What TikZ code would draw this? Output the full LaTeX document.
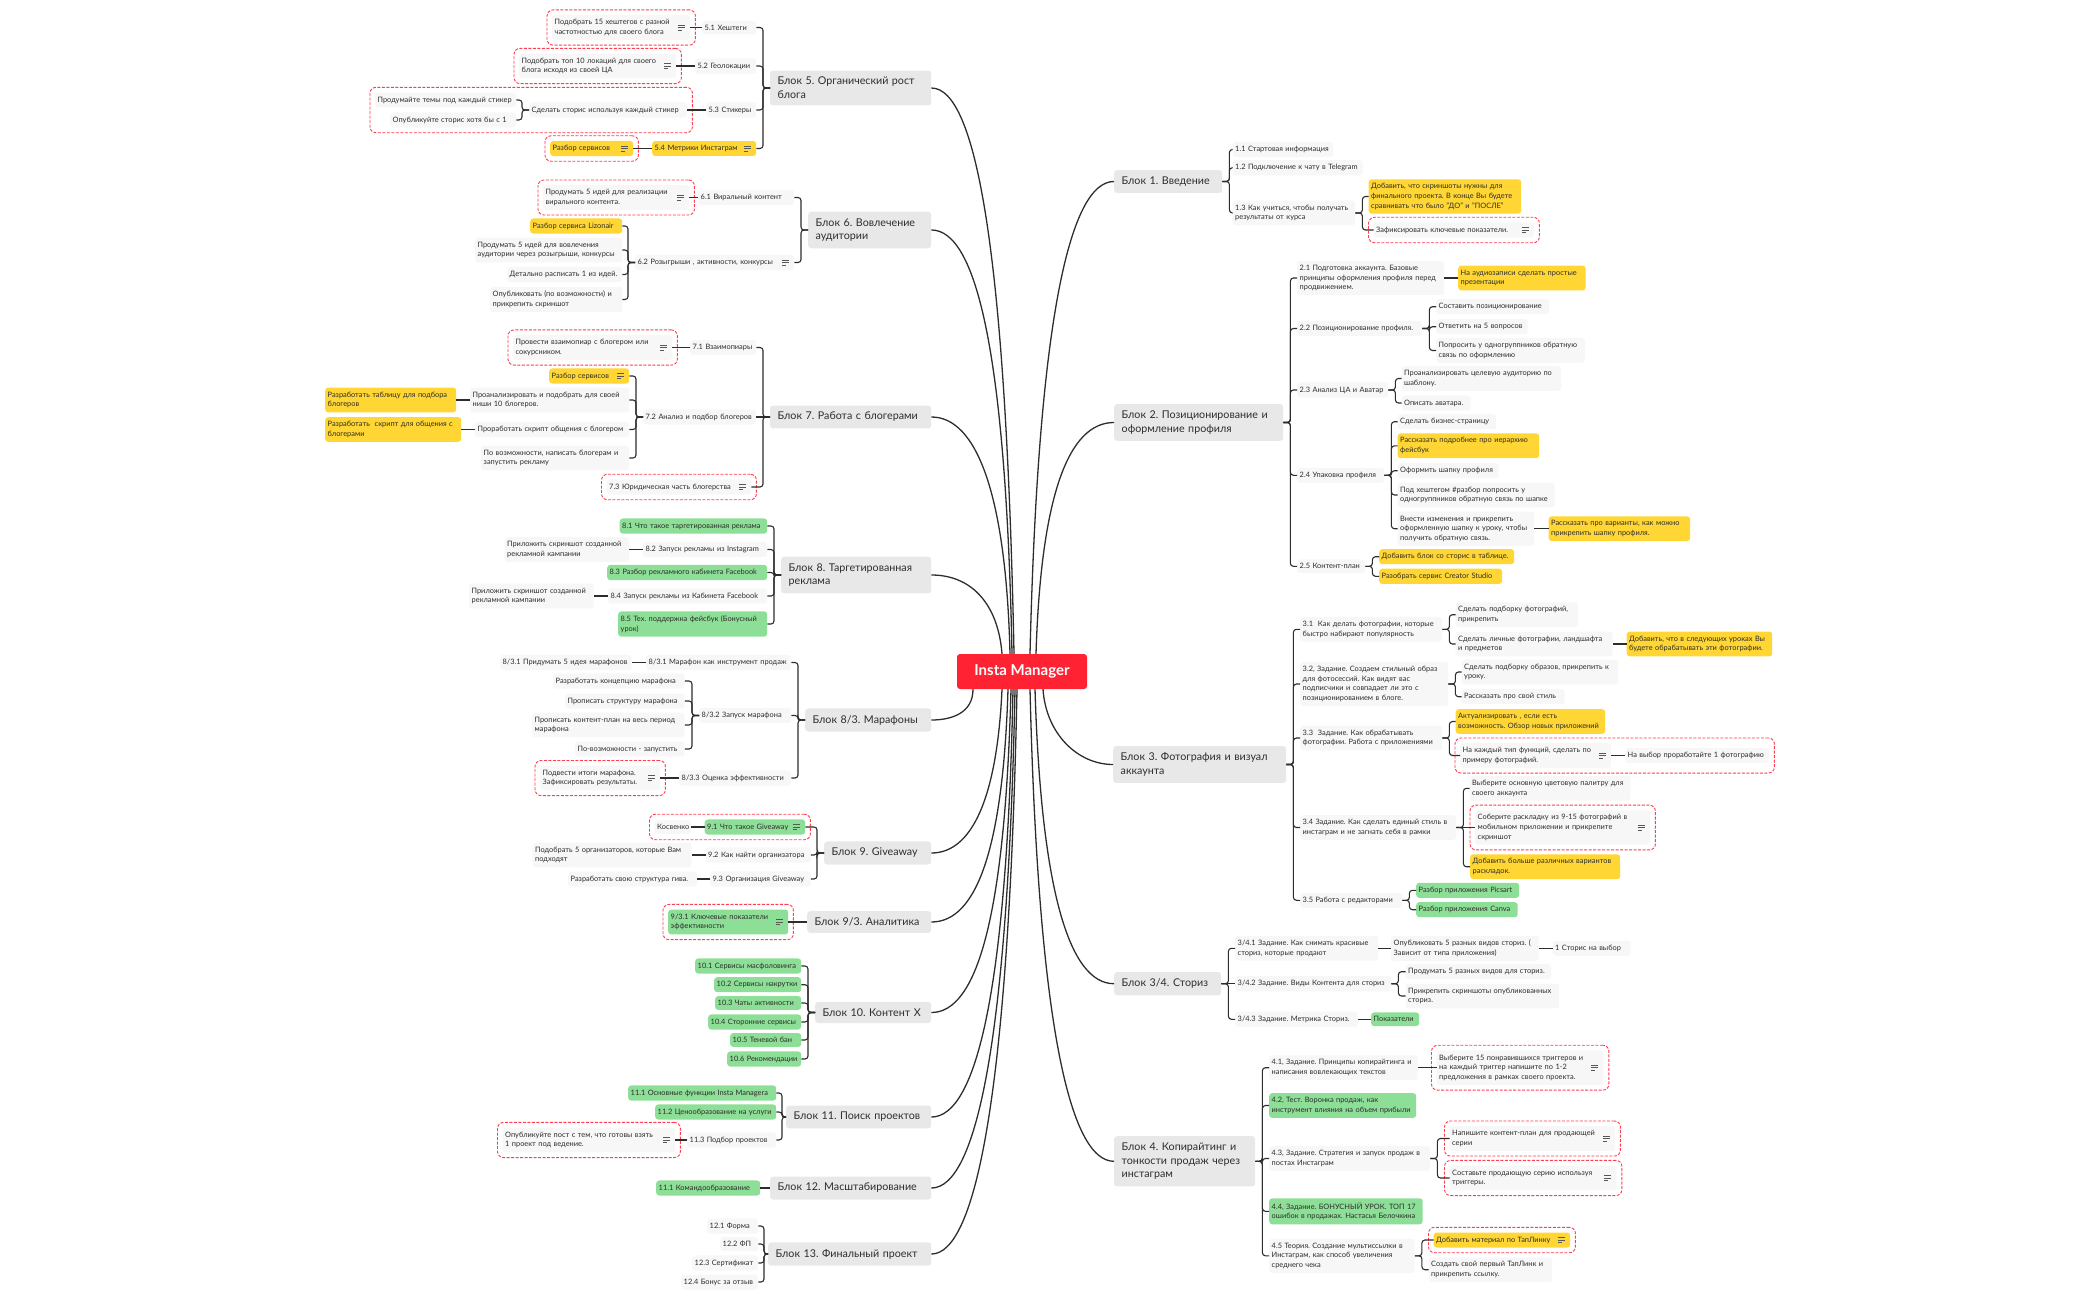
\documentclass[tikz,border=0pt]{standalone}
\usepackage{fontspec}
\setmainfont{Lato}
\usetikzlibrary{calc, fit}

\definecolor{rootred}{RGB}{254, 34, 50}
\definecolor{blockgray}{RGB}{232, 232, 232}
\definecolor{leafgray}{RGB}{247, 247, 247}
\definecolor{taskyellow}{RGB}{255, 214, 51}
\definecolor{taskgreen}{RGB}{141, 222, 150}
\definecolor{inkgray}{RGB}{45, 45, 45}
\definecolor{dashred}{RGB}{255, 60, 80}

\tikzset{
  leaf/.style={anchor=west, fill=leafgray, text=inkgray, rounded corners=3pt, inner xsep=2.5pt, inner ysep=4.2pt, align=left, font=\fontsize{7.4}{9.7}\selectfont\frenchspacing},
  yellowleaf/.style={leaf, fill=taskyellow},
  greenleaf/.style={leaf, fill=taskgreen},
  w/.style={text width=#1pt-5pt},
  block/.style={anchor=west, fill=blockgray, text=inkgray, rounded corners=3pt, inner xsep=7.5pt, inner ysep=6.7pt, align=left, font=\fontsize{10.7}{13.7}\selectfont\frenchspacing},
  bw/.style={text width=#1pt-15pt},
  dashbox/.style={draw=dashred, dashed, dash pattern=on 3pt off 1.5pt, line width=0.9pt, rounded corners=6pt, inner sep=5pt},
  mainlink/.style={draw=inkgray, line width=1.3pt},
  sublink/.style={draw=inkgray, line width=1.1pt, rounded corners=3pt},
  straightlink/.style={draw=inkgray, line width=1.3pt},
  noteicon/.pic={\draw[inkgray!80, line width=0.6pt] (-3.5,-2.6) -- (3.5,-2.6) (-3.5,0) -- (3.5,0) (-3.5,2.6) -- (0.5,2.6);}
}

\begin{document}
\begin{tikzpicture}[x=1pt, y=-1pt]
  \useasboundingbox (0,0) rectangle (2100,1300);

  % Root
  \node[fill=rootred, text=white, rounded corners=3pt, minimum width=130pt, minimum height=35pt, font=\fontsize{15}{15}\bfseries\selectfont] (root) at (1022,671.5) {Insta Manager};

  % Blocks, left side
  \node[block, bw=161] (b5) at (770,88) {Блок 5. Органический рост\\блога};
  \node[block, bw=123] (b6) at (808,230) {Блок 6. Вовлечение\\аудитории};
  \node[block, bw=161] (b7) at (770,417) {Блок 7. Работа с блогерами};
  \node[block, bw=150] (b8) at (781,575) {Блок 8. Таргетированная\\реклама};
  \node[block, bw=126] (b83) at (805,720) {Блок 8/3. Марафоны};
  \node[block, bw=107] (b9) at (824,853) {Блок 9. Giveaway};
  \node[block, bw=124] (b93) at (807,922) {Блок 9/3. Аналитика};
  \node[block, bw=116] (b10) at (815,1012.5) {Блок 10. Контент X};
  \node[block, bw=145] (b11) at (786,1117) {Блок 11. Поиск проектов};
  \node[block, bw=161] (b12) at (770,1188) {Блок 12. Масштабирование};
  \node[block, bw=163] (b13) at (768,1254) {Блок 13. Финальный проект};

  % Blocks, right side
  \node[block, bw=108] (b1) at (1114,181.5) {Блок 1. Введение};
  \node[block, bw=169] (b2) at (1114,422.5) {Блок 2. Позиционирование и\\оформление профиля};
  \node[block, bw=173] (b3) at (1113,764.5) {Блок 3. Фотография и визуал\\аккаунта};
  \node[block, bw=107] (b34) at (1114,983.7) {Блок 3/4. Сториз};
  \node[block, bw=141] (b4) at (1114,1161.3) {Блок 4. Копирайтинг и\\тонкости продаж через\\инстаграм};

  % Block 5
  \node[leaf, w=54] (n51) at (702,27.5) {5.1 Хештеги};
  \node[leaf, w=138] (n51a) at (552,27.5) {Подобрать 15 хештегов с разной\\частотностью для своего блога};
  \node[leaf, w=61] (n52) at (695,66) {5.2 Геолокации};
  \node[leaf, w=157] (n52a) at (519,66) {Подобрать топ 10 локаций для своего\\блога исходя из своей ЦА};
  \node[leaf, w=50] (n53) at (706,110) {5.3 Стикеры};
  \node[leaf, w=158] (n53a) at (529,110) {Сделать сторис используя каждый стикер};
  \node[leaf, w=141] (n53b1) at (375,100) {Продумайте темы под каждый стикер};
  \node[leaf, w=126] (n53b2) at (390,120) {Опубликуйте сторис хотя бы с 1};
  \node[yellowleaf, w=104] (n54) at (652,148.5) {5.4 Метрики Инстаграм};
  \node[yellowleaf, w=83] (n54a) at (550,148.5) {Разбор сервисов};

  % Block 6
  \node[leaf, w=96] (n61) at (698,197.5) {6.1 Виральный контент};
  \node[leaf, w=146] (n61a) at (543,197.5) {Продумать 5 идей для реализации\\вирального контента.};
  \node[leaf, w=159] (n62) at (635,262.5) {6.2 Розыгрыши , активности, конкурсы};
  \node[yellowleaf, w=92] (n62a) at (530,226) {Разбор сервиса Lizonair};
  \node[leaf, w=147] (n62b) at (475,250) {Продумать 5 идей для вовлечения\\аудитории через розыгрыши, конкурсы};
  \node[leaf, w=115] (n62c) at (507,274.5) {Детально расписать 1 из идей.};
  \node[leaf, w=132] (n62d) at (490,299.5) {Опубликовать (по возможности) и\\прикрепить скриншот};

  % Block 7
  \node[leaf, w=66] (n71) at (690,347.5) {7.1 Взаимопиары};
  \node[leaf, w=159] (n71a) at (513,347.5) {Провести взаимопиар с блогером или\\сокурсником.};
  \node[leaf, w=113] (n72) at (643,417) {7.2 Анализ и подбор блогеров};
  \node[yellowleaf, w=80] (n72a) at (549,376) {Разбор сервисов};
  \node[leaf, w=159] (n72b) at (470,400) {Проанализировать и подобрать для своей\\ниши 10 блогеров.};
  \node[yellowleaf, w=131] (n72b1) at (325,400) {Разработать таблицу для подбора\\блогеров};
  \node[leaf, w=154] (n72c) at (475,429.5) {Проработать скрипт общения с блогером};
  \node[yellowleaf, w=136] (n72c1) at (325,429.5) {Разработать \ скрипт для общения с\\блогерами};
  \node[leaf, w=148] (n72d) at (481,458) {По возможности, написать блогерам и\\запустить рекламу};
  \node[leaf, w=144.5] (n73) at (606.5,487) {7.3 Юридическая часть блогерства};

  % Block 8
  \node[greenleaf, w=147.5] (n81) at (619.5,526) {8.1 Что такое таргетированная реклама};
  \node[leaf, w=124] (n82) at (643,549.5) {8.2 Запуск рекламы из Instagram};
  \node[leaf, w=124.5] (n82a) at (504.5,549.5) {Приложить скриншот созданной\\рекламной кампании};
  \node[greenleaf, w=160] (n83) at (607,572.5) {8.3 Разбор рекламного кабинета Facebook};
  \node[leaf, w=159] (n84) at (608,596) {8.4 Запуск рекламы из Кабинета Facebook};
  \node[leaf, w=124.5] (n84a) at (469,596) {Приложить скриншот созданной\\рекламной кампании};
  \node[greenleaf, w=149] (n85) at (618,624) {8.5 Тех. поддержка фейсбук (Бонусный\\урок)};

  % Block 8/3
  \node[leaf, w=145] (n831) at (646,662.5) {8/3.1 Марафон как инструмент продаж};
  \node[leaf, w=131.5] (n831a) at (500,662.5) {8/3.1 Придумать 5 идея марафонов};
  \node[leaf, w=92] (n832) at (699,715.5) {8/3.2 Запуск марафона};
  \node[leaf, w=131.5] (n832a) at (553,681) {Разработать концепцию марафона};
  \node[leaf, w=119.5] (n832b) at (565,701) {Прописать структуру марафона};
  \node[leaf, w=152.5] (n832c) at (532,725) {Прописать контент-план на весь период\\марафона};
  \node[leaf, w=109.5] (n832d) at (575,749) {По-возможности - запустить};
  \node[leaf, w=112] (n833) at (679,778) {8/3.3 Оценка эффективности};
  \node[leaf, w=120] (n833a) at (540,778) {Подвести итоги марафона.\\Зафиксировать результаты.};

  % Block 9
  \node[greenleaf, w=100.5] (n91) at (704.5,827) {9.1 Что такое Giveaway};
  \node[leaf, w=36.5] (n91a) at (654.5,827) {Косвенко};
  \node[leaf, w=105] (n92) at (705.5,855) {9.2 Как найти организатора};
  \node[leaf, w=159] (n92a) at (532.5,855) {Подобрать 5 организаторов, которые Вам\\подходят};
  \node[leaf, w=100.5] (n93) at (710,879) {9.3 Организация Giveaway};
  \node[leaf, w=129] (n93a) at (568,879) {Разработать свою структура гива.};
  \node[greenleaf, w=120] (n931) at (668,922) {9/3.1 Ключевые показатели\\эффективности};

  % Block 10
  \node[greenleaf, w=106] (n101) at (695,966) {10.1 Сервисы масфоловинга};
  \node[greenleaf, w=87] (n102) at (714,984.7) {10.2 Сервисы накрутки};
  \node[greenleaf, w=86] (n103) at (715,1003) {10.3 Чаты активности};
  \node[greenleaf, w=93] (n104) at (708,1022) {10.4 Сторонние сервисы};
  \node[greenleaf, w=71] (n105) at (730,1040) {10.5 Теневой бан};
  \node[greenleaf, w=74] (n106) at (727,1059) {10.6 Рекомендации};

  % Block 11, 12, 13
  \node[greenleaf, w=148] (n111) at (628,1093) {11.1 Основные функции Insta Managera};
  \node[greenleaf, w=121] (n112) at (655,1112) {11.2 Ценообразование на услуги};
  \node[leaf, w=89] (n113) at (687,1140) {11.3 Подбор проектов};
  \node[leaf, w=172.5] (n113a) at (502.5,1140) {Опубликуйте пост с тем, что готовы взять\\1 проект под ведение.};
  \node[greenleaf, w=104] (n121) at (656,1188) {11.1 Командообразование};
  \node[leaf, w=51] (n131) at (707,1226) {12.1 Форма};
  \node[leaf, w=38] (n132) at (720,1244) {12.2 ФП};
  \node[leaf, w=66] (n133) at (692,1263) {12.3 Сертификат};
  \node[leaf, w=77] (n134) at (681,1282) {12.4 Бонус за отзыв};

  % Block 1
  \node[leaf, w=100.5] (n11) at (1232.5,149.5) {1.1 Стартовая информация};
  \node[leaf, w=130] (n12) at (1232.5,167.7) {1.2 Подключение к чату в Telegram};
  \node[leaf, w=122.5] (n13) at (1232.5,213) {1.3 Как учиться, чтобы получать\\результаты от курса};
  \node[yellowleaf, w=152.5] (n13a) at (1368.5,196.5) {Добавить, что скриншоты нужны для\\финального проекта. В конце Вы будете\\сравнивать что было "ДО" и "ПОСЛЕ"};
  \node[leaf, w=160.5] (n13b) at (1373.5,230) {Зафиксировать ключевые показатели.};

  % Block 2
  \node[leaf, w=147] (n21) at (1297,278) {2.1 Подготовка аккаунта. Базовые\\принципы оформления профиля перед\\продвижением.};
  \node[yellowleaf, w=127.5] (n21a) at (1458,278) {На аудиозаписи сделать простые\\презентации};
  \node[leaf, w=125] (n22) at (1297,328.5) {2.2 Позиционирование профиля.};
  \node[leaf, w=113] (n22a) at (1436,306.7) {Составить позиционирование};
  \node[leaf, w=91.5] (n22b) at (1436,326.7) {Ответить на 5 вопросов};
  \node[leaf, w=149] (n22c) at (1436,350.5) {Попросить у одногруппников обратную\\связь по оформлению};
  \node[leaf, w=91] (n23) at (1297,390) {2.3 Анализ ЦА и Аватар};
  \node[leaf, w=159.5] (n23a) at (1401.5,378.5) {Проанализировать целевую аудиторию по\\шаблону.};
  \node[leaf, w=69] (n23b) at (1401.5,403) {Описать аватара.};
  \node[leaf, w=87] (n24) at (1297,475.3) {2.4 Упаковка профиля};
  \node[leaf, w=98.5] (n24a) at (1397.5,421.7) {Сделать бизнес-страницу};
  \node[yellowleaf, w=141.5] (n24b) at (1397.5,445.8) {Рассказать подробнее про иерархию\\фейсбук};
  \node[leaf, w=101] (n24c) at (1397.5,470.7) {Оформить шапку профиля};
  \node[leaf, w=157] (n24d) at (1397.5,495) {Под хештегом \#разбор попросить у\\одногруппников обратную связь по шапке};
  \node[leaf, w=136.5] (n24e) at (1397.5,528.7) {Внести изменения и прикрепить\\оформленную шапку к уроку, чтобы\\получить обратную связь.};
  \node[yellowleaf, w=141.5] (n24e1) at (1548.5,528.7) {Рассказать про варианты, как можно\\прикрепить шапку профиля.};
  \node[leaf, w=68] (n25) at (1297,566.3) {2.5 Контент-план};
  \node[yellowleaf, w=135] (n25a) at (1379,556.7) {Добавить блок со сторис в таблице.};
  \node[yellowleaf, w=123] (n25b) at (1379,576.3) {Разобрать сервис Creator Studio};

  % Block 3
  \node[leaf, w=142] (n31) at (1300,629.3) {3.1 \ Как делать фотографии, которые\\быстро набирают популярность};
  \node[leaf, w=122.5] (n31a) at (1455.5,614.7) {Сделать подборку фотографий,\\прикрепить};
  \node[leaf, w=157] (n31b) at (1455.5,644) {Сделать личные фотографии, ландшафта\\и предметов};
  \node[yellowleaf, w=145.5] (n31b1) at (1626.5,644) {Добавить, что в следующих уроках Вы\\будете обрабатывать эти фотографии.};
  \node[leaf, w=148] (n32) at (1300,684) {3.2, Задание. Создаем стильный образ\\для фотосессий. Как видят вас\\подписчики и совпадает ли это с\\позиционированием в блоге.};
  \node[leaf, w=156.5] (n32a) at (1461.5,672) {Сделать подборку образов, прикрепить к\\уроку.};
  \node[leaf, w=103] (n32b) at (1461.5,696.7) {Рассказать про свой стиль};
  \node[leaf, w=142] (n33) at (1300,738) {3.3 \ Задание. Как обрабатывать\\фотографии. Работа с приложениями};
  \node[yellowleaf, w=149.5] (n33a) at (1455.5,721.5) {Актуализировать , если есть\\возможность. Обзор новых приложений};
  \node[leaf, w=151] (n33b) at (1460,755.5) {На каждый тип функций, сделать по\\примеру фотографий.};
  \node[leaf, w=144] (n33b1) at (1625,755.5) {На выбор проработайте 1 фотографию};
  \node[leaf, w=156] (n34) at (1300,827.5) {3.4 Задание. Как сделать единый стиль в\\инстаграм и не загнать себя в рамки};
  \node[leaf, w=161] (n34a) at (1469.5,788.3) {Выберите основную цветовую палитру для\\своего аккаунта};
  \node[leaf, w=175] (n34b) at (1475,827.5) {Соберите раскладку из 9-15 фотографий в\\мобильном приложении и прикрепите\\скриншот};
  \node[yellowleaf, w=150] (n34c) at (1470,866.7) {Добавить больше различных вариантов\\раскладок.};
  \node[leaf, w=102] (n35) at (1300,900.3) {3.5 Работа с редакторами};
  \node[greenleaf, w=103] (n35a) at (1416,890.3) {Разбор приложения Picsart};
  \node[greenleaf, w=101.5] (n35b) at (1416,909.7) {Разбор приложения Canva};

  % Block 3/4
  \node[leaf, w=143] (n341) at (1235,948.3) {3/4.1 Задание. Как снимать красивые\\сториз, которые продают};
  \node[leaf, w=147.5] (n341a) at (1391,948.3) {Опубликовать 5 разных видов сториз. (\\Зависит от типа приложения)};
  \node[leaf, w=78] (n341b) at (1552.5,948.3) {1 Сторис на выбор};
  \node[leaf, w=156] (n342) at (1235,983.7) {3/4.2 Задание. Виды Контента для сториз};
  \node[leaf, w=145.5] (n342a) at (1405.5,971.7) {Продумать 5 разных видов для сториз.};
  \node[leaf, w=153.5] (n342b) at (1405.5,996) {Прикрепить скриншоты опубликованных\\сториз.};
  \node[leaf, w=122.5] (n343) at (1235,1019.3) {3/4.3 Задание. Метрика Сториз.};
  \node[greenleaf, w=48] (n343a) at (1371,1019.3) {Показатели};

  % Block 4
  \node[leaf, w=148.5] (n41) at (1269,1067.7) {4.1, Задание. Принципы копирайтинга и\\написания вовлекающих текстов};
  \node[leaf, w=167] (n41a) at (1436.5,1067.7) {Выберите 15 понравившихся триггеров и\\на каждый триггер напишите по 1-2\\предложения в рамках своего проекта.};
  \node[greenleaf, w=147] (n42) at (1269,1105.5) {4.2, Тест. Воронка продаж, как\\инструмент влияния на объем прибыли};
  \node[leaf, w=161] (n43) at (1269,1158.5) {4.3, Задание. Стратегия и запуск продаж в\\постах Инстаграм};
  \node[leaf, w=165.5] (n43a) at (1449.5,1138.5) {Напишите контент-план для продающей\\серии};
  \node[leaf, w=167] (n43b) at (1449.5,1178) {Составьте продающую серию используя\\триггеры.};
  \node[greenleaf, w=153.5] (n44) at (1269,1211.3) {4.4, Задание. БОНУСНЫЙ УРОК. ТОП 17\\ошибок в продажах. Настасья Белочкина};
  \node[leaf, w=145.5] (n45) at (1269,1255.8) {4.5 Теория. Создание мультиссылки в\\Инстаграм, как способ увеличения\\среднего чека};
  \node[yellowleaf, w=136.5] (n45a) at (1433.5,1240) {Добавить материал по ТапЛинку};
  \node[leaf, w=123.5] (n45b) at (1428.5,1269.7) {Создать свой первый ТапЛинк и\\прикрепить ссылку.};

  % Dashed groups
  \foreach \g/\m in {d51/(n51a), d52/(n52a), d53/(n53a)(n53b1)(n53b2), d54/(n54a), d61/(n61a), d71/(n71a), d73/(n73), d833/(n833a), d91/(n91)(n91a), d931/(n931), d113/(n113a), d13/(n13b), d33/(n33b)(n33b1), d34/(n34b), d41/(n41a), d43a/(n43a), d43b/(n43b), d45/(n45a)}
    \node[dashbox, fit=\m] (\g) {};

  % Note icons
  \foreach \n in {n51a, n52a, n54, n54a, n61a, n62, n71a, n72a, n73, n833a, n91, n931, n113a, n13b, n33b, n34b, n41a, n43a, n43b, n45a}
    \pic at ([xshift=-9pt]\n.east) {noteicon};

  % Root to blocks
  \foreach \b/\s/\ax/\ay/\bx in {b5/-8/-8/-400/45, b6/-10/-6/-300/45, b7/-12/-4/-160/45, b8/-20/-4/-50/40}
    \draw[mainlink] ([xshift=\s]root.north) .. controls +(\ax,\ay) and +(\bx,0) .. (\b.east);
  \foreach \b/\s/\ax/\ay/\bx in {b83/-49/0/24/20, b9/-20/-5/110/40, b93/-14/-5/160/45, b10/-11/-6/230/45, b11/-9/-6/300/45, b12/-7/-7/350/45, b13/-5/-8/400/45}
    \draw[mainlink] ([xshift=\s]root.south) .. controls +(\ax,\ay) and +(\bx,0) .. (\b.east);
  \foreach \b/\s/\ax/\ay/\bx in {b1/8/8/-330/-45, b2/14/5/-160/-45}
    \draw[mainlink] ([xshift=\s]root.north) .. controls +(\ax,\ay) and +(\bx,0) .. (\b.west);
  \foreach \b/\s/\ax/\ay/\bx in {b3/21/3/45/-35, b34/13/6/200/-45, b4/8/8/330/-45}
    \draw[mainlink] ([xshift=\s]root.south) .. controls +(\ax,\ay) and +(\bx,0) .. (\b.west);

  % Left branches
  \foreach \p/\c in {b5/n51, b5/n52, b5/n53, b5/n54, n53a/n53b1, n53a/n53b2,
    b6/n61, b6/n62, n62/n62a, n62/n62b, n62/n62c, n62/n62d,
    b7/n71, b7/n73, n72/n72a, n72/n72b, n72/n72c, n72/n72d,
    b8/n81, b8/n82, b8/n83, b8/n84, b8/n85,
    b83/n831, b83/n832, b83/n833, n832/n832a, n832/n832b, n832/n832c, n832/n832d,
    b9/n91, b9/n92, b9/n93,
    b10/n101, b10/n102, b10/n103, b10/n104, b10/n105, b10/n106}
    \draw[sublink] (\p.west) -- ++(-7,0) |- (\c.east);
  \foreach \p/\c in {b11/n111, b11/n112, b11/n113, b13/n131, b13/n132, b13/n133, b13/n134}
    \draw[sublink] (\p.west) -- ++(-4,0) |- (\c.east);
  \foreach \p/\c in {n51/n51a, n52/n52a, n53/n53a, n54/n54a, n61/n61a, n71/n71a, b7/n72, n72b/n72b1, n72c/n72c1, n82/n82a, n84/n84a, n831/n831a, n833/n833a, n91/n91a, n92/n92a, n93/n93a, b93/n931, n113/n113a, b12/n121}
    \draw[straightlink] (\p.west) -- (\c.east);

  % Right branches
  \foreach \p/\c in {b1/n11, b1/n12, b1/n13, n13/n13a, n13/n13b,
    b2/n21, b2/n22, b2/n23, b2/n24, b2/n25, n22/n22a, n22/n22b, n22/n22c, n23/n23a, n23/n23b,
    n24/n24a, n24/n24b, n24/n24c, n24/n24d, n24/n24e, n25/n25a, n25/n25b,
    b3/n31, b3/n32, b3/n33, b3/n34, b3/n35, n31/n31a, n31/n31b, n32/n32a, n32/n32b,
    n33/n33a, n33/n33b, n34/n34a, n34/n34c, n35/n35a, n35/n35b,
    b34/n341, b34/n343, n342/n342a, n342/n342b,
    b4/n41, b4/n42, b4/n43, b4/n44, b4/n45, n43/n43a, n43/n43b, n45/n45a, n45/n45b}
    \draw[sublink] (\p.east) -- ++(7,0) |- (\c.west);
  \foreach \p/\c in {n21/n21a, n24e/n24e1, n31b/n31b1, n33b/n33b1, n34/n34b, b34/n342, n341/n341a, n341a/n341b, n343/n343a, n41/n41a}
    \draw[straightlink] (\p.east) -- (\c.west);
\end{tikzpicture}
\end{document}
